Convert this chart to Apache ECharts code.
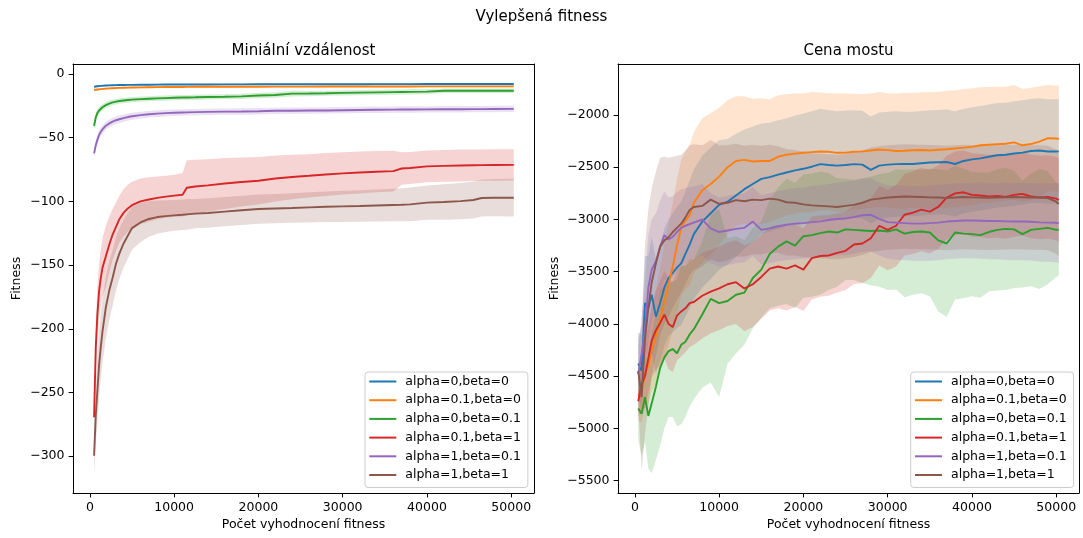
<!DOCTYPE html>
<html><head><meta charset="utf-8">
<script src="https://cdn.jsdelivr.net/npm/echarts@6/dist/echarts.min.js"></script>
<style>html,body{margin:0;padding:0;background:#fff}#main{width:1083px;height:538px}</style>
</head><body><div id="main"></div>
<script>
const FONT = "'DejaVu Sans', sans-serif";
const seriesNames = ['alpha=0,beta=0','alpha=0.1,beta=0','alpha=0,beta=0.1','alpha=0.1,beta=1','alpha=1,beta=0.1','alpha=1,beta=1'];
const colors = ['#1f77b4','#ff7f0e','#2ca02c','#d62728','#9467bd','#8c564b'];

const xTicks = [0, 10000, 20000, 30000, 40000, 50000];
const yTicksLeft = [-300, -250, -200, -150, -100, -50, 0];
const yTicksRight = [-5500, -5000, -4500, -4000, -3500, -3000, -2500, -2000];

// ---------- Left panel: Miniální vzdálenost ----------
const xsLeft = [500, 700, 900, 1100, 1300, 1500, 1900, 2300, 2700, 3100, 3500, 4000, 4500, 5000, 6000, 7000, 8000, 9000, 10000, 11000, 11500, 12500, 14000, 16000, 18000, 20000, 22000, 24000, 26000, 28000, 30000, 32000, 34000, 36000, 37000, 38000, 40000, 42000, 44000, 45500, 46500, 48000, 50300];
const leftMeanA0B0 = [-10.0, -9.8, -9.6, -9.4, -9.3, -9.2, -9.0, -8.9, -8.8, -8.7, -8.65, -8.6, -8.55, -8.5, -8.45, -8.4, -8.35, -8.3, -8.3, -8.25, -8.25, -8.2, -8.2, -8.15, -8.15, -8.1, -8.1, -8.05, -8.05, -8.0, -8.0, -8.0, -7.95, -7.95, -7.95, -7.95, -7.9, -7.9, -7.9, -7.9, -7.9, -7.9, -7.9];
const leftSdA0B0 = [0.8, 0.8, 0.7, 0.7, 0.7, 0.6, 0.6, 0.6, 0.6, 0.6, 0.6, 0.6, 0.6, 0.6, 0.6, 0.6, 0.6, 0.6, 0.6, 0.6, 0.6, 0.6, 0.6, 0.6, 0.6, 0.6, 0.6, 0.6, 0.6, 0.6, 0.6, 0.6, 0.6, 0.6, 0.6, 0.6, 0.6, 0.6, 0.6, 0.6, 0.6, 0.6, 0.6];
const leftMeanA01B0 = [-12.6, -12.4, -12.2, -12.0, -11.85, -11.7, -11.5, -11.3, -11.15, -11.0, -10.9, -10.8, -10.7, -10.6, -10.5, -10.4, -10.3, -10.25, -10.2, -10.15, -10.1, -10.05, -10.0, -10.0, -9.95, -9.95, -9.9, -9.9, -9.9, -9.85, -9.85, -9.85, -9.8, -9.8, -9.8, -9.8, -9.75, -9.75, -9.75, -9.7, -9.7, -9.7, -9.7];
const leftSdA01B0 = [0.9, 0.9, 0.8, 0.8, 0.8, 0.7, 0.7, 0.7, 0.7, 0.7, 0.7, 0.7, 0.7, 0.7, 0.7, 0.7, 0.7, 0.7, 0.7, 0.7, 0.7, 0.7, 0.7, 0.7, 0.7, 0.7, 0.7, 0.7, 0.7, 0.7, 0.7, 0.7, 0.7, 0.7, 0.7, 0.7, 0.7, 0.7, 0.7, 0.7, 0.7, 0.7, 0.7];
const leftMeanA0B01 = [-40.8, -34, -30.5, -28.6, -27.2, -26.1, -24.4, -23.2, -22.3, -21.7, -21.2, -20.8, -20.4, -20.1, -19.7, -19.4, -19.1, -18.9, -18.7, -18.5, -18.4, -18.3, -18.1, -17.9, -17.6, -16.9, -16.5, -15.4, -15.3, -15.1, -14.8, -14.6, -14.4, -14.2, -14.1, -14.0, -13.8, -13.2, -13.2, -13.2, -13.2, -13.2, -13.2];
const leftSdA0B01 = [3, 3, 3, 2.8, 2.7, 2.6, 2.5, 2.4, 2.3, 2.2, 2.2, 2.1, 2.1, 2, 2, 2, 2, 2, 2, 2, 2, 2, 2, 2, 2.1, 2.1, 2.2, 2.2, 2.1, 2, 2, 2, 2, 2, 2, 2, 2, 1.8, 1.8, 1.8, 1.8, 1.8, 1.8];
const leftMeanA01B1 = [-269.5, -215, -188, -170, -160, -152, -143, -134, -126, -120, -114, -109, -105.5, -103, -100, -98.5, -97.2, -96.3, -95.5, -94.8, -89.3, -88.3, -87.4, -86, -84.8, -83.8, -82, -80.8, -79.9, -78.9, -78, -77.3, -76.7, -76.2, -74.2, -73.8, -72.5, -72.1, -71.8, -71.6, -71.5, -71.4, -71.3];
const leftSdA01B1 = [8, 18, 21, 22, 22, 23, 24, 22, 20, 19, 18.5, 18.5, 18.5, 18.5, 18, 17.5, 16.8, 16.5, 16.5, 17, 21.5, 21, 20.5, 20, 19.3, 18.6, 18, 17.5, 17, 16.8, 16.5, 16.5, 16.2, 16, 12.8, 12.6, 12.4, 12.5, 12.6, 12.4, 12.3, 12.3, 12.3];
const leftMeanA1B01 = [-62.3, -56, -51.5, -47.8, -45.3, -43.5, -40.6, -38.8, -37.4, -36.3, -35.5, -34.6, -33.8, -33.2, -32.3, -31.6, -31.1, -30.7, -30.4, -30.2, -30.1, -29.9, -29.7, -29.5, -29.4, -29.2, -28.9, -28.8, -28.7, -28.6, -28.4, -28.2, -28.1, -28.0, -27.9, -27.9, -27.8, -27.7, -27.7, -27.6, -27.6, -27.5, -27.4];
const leftSdA1B01 = [3.5, 3.5, 3.5, 3.4, 3.3, 3.2, 3.1, 3, 3, 2.9, 2.9, 2.8, 2.8, 2.7, 2.7, 2.6, 2.6, 2.6, 2.5, 2.5, 2.5, 2.5, 2.5, 2.5, 2.5, 2.5, 2.5, 2.5, 2.5, 2.5, 2.5, 2.5, 2.5, 2.5, 2.5, 2.5, 2.5, 2.5, 2.5, 2.5, 2.5, 2.5, 2.5];
const leftMeanA1B1 = [-299.6, -268, -248, -228, -214, -202, -183, -170, -160, -149, -141, -133, -127, -121, -116.5, -113.8, -112.3, -111.6, -111, -110.5, -110.2, -109.6, -109.1, -108, -107, -106, -105.6, -105.2, -104.7, -104.2, -103.9, -103.6, -103.2, -102.8, -102.6, -102.3, -101, -100.5, -99.8, -98.9, -97.3, -97.1, -97.1];
const leftSdA1B1 = [15, 22, 25, 26, 26, 25, 24, 23, 22, 21, 20, 19, 18, 17, 15.5, 14, 13, 12.5, 12, 12, 12, 11.5, 11.5, 11.5, 11.5, 11.5, 11.5, 11.5, 11.8, 12, 12.2, 12.4, 12.6, 12.8, 13, 13.2, 13.5, 14, 14.2, 14.5, 14.5, 14.6, 14.8];

// ---------- Right panel: Cena mostu ----------
const xsRight = [400, 800, 1200, 1600, 2000, 2500, 3000, 3500, 4000, 4500, 5000, 5500, 6000, 6500, 7000, 8000, 9000, 10000, 11000, 12000, 13000, 14000, 15000, 16000, 17000, 18000, 19000, 20000, 21000, 22000, 23000, 24000, 25000, 26000, 27000, 28000, 29000, 30000, 31000, 32000, 33000, 34000, 35000, 36000, 37000, 38000, 39000, 40000, 41000, 42000, 43000, 44000, 45000, 46000, 47000, 48000, 49000, 50000, 50300];
const rightMeanA0B0 = [-4380, -4450, -3800, -3850, -3720, -3930, -3800, -3650, -3560, -3510, -3460, -3420, -3330, -3240, -3140, -3020, -2940, -2860, -2830, -2770, -2710, -2660, -2612, -2595, -2570, -2550, -2530, -2515, -2495, -2470, -2478, -2485, -2478, -2470, -2475, -2525, -2485, -2475, -2470, -2468, -2469, -2462, -2455, -2452, -2450, -2469, -2440, -2425, -2415, -2400, -2385, -2380, -2368, -2360, -2345, -2340, -2350, -2350, -2348];
const rightSdA0B0 = [300, 350, 450, 500, 550, 550, 560, 560, 560, 570, 580, 590, 600, 610, 620, 630, 630, 620, 600, 590, 570, 550, 530, 520, 520, 520, 525, 530, 530, 530, 525, 520, 520, 515, 515, 510, 510, 505, 505, 500, 500, 500, 500, 500, 505, 505, 500, 500, 500, 500, 500, 498, 500, 500, 500, 500, 500, 500, 500];
const rightMeanA01B0 = [-4680, -4640, -4480, -4400, -4250, -4120, -3960, -3780, -3620, -3450, -3250, -3080, -3010, -2960, -2840, -2720, -2660, -2590, -2500, -2440, -2430, -2445, -2440, -2440, -2400, -2380, -2370, -2362, -2355, -2350, -2352, -2362, -2360, -2352, -2348, -2340, -2330, -2336, -2345, -2342, -2338, -2335, -2340, -2333, -2328, -2320, -2312, -2305, -2290, -2285, -2280, -2275, -2262, -2290, -2278, -2255, -2222, -2225, -2230];
const rightSdA01B0 = [250, 300, 330, 360, 400, 450, 500, 540, 580, 610, 640, 650, 660, 670, 680, 690, 680, 660, 640, 620, 610, 600, 600, 590, 590, 580, 575, 570, 575, 565, 560, 570, 565, 555, 550, 545, 550, 545, 550, 555, 548, 552, 560, 555, 560, 558, 562, 560, 555, 552, 550, 545, 548, 540, 538, 530, 510, 505, 515];
const rightMeanA0B01 = [-4810, -4860, -4700, -4880, -4760, -4600, -4420, -4320, -4260, -4240, -4280, -4200, -4170, -4100, -4050, -3910, -3760, -3800, -3780, -3720, -3700, -3560, -3480, -3330, -3260, -3210, -3250, -3160, -3150, -3130, -3115, -3125, -3095, -3100, -3105, -3110, -3105, -3115, -3095, -3135, -3120, -3115, -3125, -3200, -3230, -3125, -3135, -3140, -3150, -3120, -3100, -3090, -3095, -3140, -3100, -3090, -3080, -3100, -3097];
const rightSdA0B01 = [300, 400, 430, 500, 670, 700, 745, 680, 630, 650, 700, 760, 720, 690, 670, 700, 800, 900, 600, 560, 500, 480, 460, 520, 565, 600, 600, 590, 590, 590, 560, 520, 485, 480, 500, 520, 540, 560, 575, 610, 600, 590, 610, 680, 700, 640, 620, 595, 600, 570, 580, 585, 560, 510, 540, 575, 540, 450, 440];
const rightMeanA01B1 = [-4740, -4580, -4500, -4330, -4160, -4060, -3990, -3910, -4000, -4030, -3920, -3880, -3850, -3800, -3790, -3730, -3690, -3660, -3620, -3600, -3660, -3620, -3550, -3470, -3450, -3470, -3440, -3480, -3370, -3350, -3345, -3320, -3300, -3240, -3230, -3180, -3060, -3100, -3060, -2955, -2935, -2905, -2925, -2880, -2790, -2750, -2740, -2765, -2770, -2780, -2775, -2785, -2765, -2755, -2780, -2790, -2785, -2800, -2814];
const rightSdA01B1 = [150, 250, 300, 330, 350, 380, 400, 420, 430, 430, 430, 430, 420, 420, 410, 410, 400, 400, 400, 400, 410, 410, 400, 400, 400, 400, 395, 395, 395, 390, 385, 380, 375, 377, 380, 380, 380, 385, 390, 390, 395, 400, 400, 400, 400, 400, 400, 400, 400, 400, 400, 400, 400, 400, 400, 400, 400, 400, 400];
const rightMeanA1B01 = [-4480, -4290, -4050, -3650, -3480, -3400, -3260, -3150, -3190, -3165, -3120, -3080, -3060, -3045, -3030, -3000, -3085, -3120, -3105, -3090, -3080, -3020, -3100, -3085, -3065, -3050, -3040, -3035, -3025, -3018, -3005, -2995, -2990, -2978, -2960, -2955, -2995, -3025, -3030, -3035, -3040, -3040, -3035, -3030, -3020, -3015, -3010, -3010, -3012, -3015, -3015, -3018, -3020, -3020, -3022, -3028, -3030, -3032, -3035];
const rightSdA1B01 = [250, 350, 450, 500, 480, 460, 440, 420, 400, 390, 380, 370, 360, 350, 345, 340, 335, 330, 330, 330, 330, 330, 330, 335, 335, 340, 340, 340, 345, 345, 345, 350, 350, 350, 350, 350, 350, 350, 355, 355, 355, 355, 360, 360, 360, 360, 360, 360, 365, 365, 365, 370, 370, 370, 370, 375, 375, 380, 380];
const rightMeanA1B1 = [-4450, -4700, -4150, -3850, -3600, -3420, -3260, -3200, -3170, -3120, -3080, -3040, -2980, -2910, -2880, -2870, -2810, -2850, -2840, -2815, -2825, -2810, -2815, -2800, -2810, -2835, -2840, -2855, -2865, -2870, -2875, -2880, -2870, -2860, -2840, -2810, -2800, -2790, -2785, -2780, -2782, -2785, -2788, -2790, -2795, -2790, -2785, -2788, -2790, -2792, -2790, -2788, -2785, -2787, -2790, -2790, -2795, -2830, -2852];
const rightSdA1B1 = [300, 700, 900, 950, 900, 880, 850, 800, 760, 720, 690, 660, 640, 620, 600, 580, 570, 560, 550, 540, 530, 525, 520, 515, 510, 510, 505, 505, 500, 500, 500, 500, 500, 500, 500, 500, 500, 500, 500, 500, 500, 500, 500, 500, 500, 500, 500, 500, 500, 500, 500, 500, 500, 500, 500, 500, 500, 500, 500];

const leftMeans = [leftMeanA0B0, leftMeanA01B0, leftMeanA0B01, leftMeanA01B1, leftMeanA1B01, leftMeanA1B1];
const leftSds = [leftSdA0B0, leftSdA01B0, leftSdA0B01, leftSdA01B1, leftSdA1B01, leftSdA1B1];
const rightMeans = [rightMeanA0B0, rightMeanA01B0, rightMeanA0B01, rightMeanA01B1, rightMeanA1B01, rightMeanA1B1];
const rightSds = [rightSdA0B0, rightSdA01B0, rightSdA0B01, rightSdA01B1, rightSdA1B01, rightSdA1B1];

// ---------- layout ----------
const X_MIN = -2000, X_MAX = 52700;
const YL_MIN = -328.9, YL_MAX = 7.85;
const YR_MIN = -5617.9, YR_MAX = -1511.9;
const fmt = v => String(v).replace('-', '\u2212');

function rgba(hex, a) {
  const n = parseInt(hex.slice(1), 16);
  return 'rgba(' + ((n >> 16) & 255) + ',' + ((n >> 8) & 255) + ',' + (n & 255) + ',' + a + ')';
}

function bottomX(gridIndex) {
  return {
    type: 'value', gridIndex, min: X_MIN, max: X_MAX, position: 'bottom',
    splitLine: { show: false },
    axisLine: { show: true, onZero: false, lineStyle: { color: '#000', width: 1 } },
    axisTick: { show: true, inside: false, length: 4.4, lineStyle: { color: '#000', width: 1 }, customValues: xTicks },
    axisLabel: { show: true, margin: 8, fontSize: 12.5, color: '#000', fontFamily: FONT, customValues: xTicks, formatter: fmt }
  };
}
function topX(gridIndex) {
  return {
    type: 'value', gridIndex, min: X_MIN, max: X_MAX, position: 'top',
    splitLine: { show: false },
    axisLine: { show: true, onZero: false, lineStyle: { color: '#000', width: 1 } },
    axisTick: { show: false }, axisLabel: { show: false }
  };
}
function leftY(gridIndex, min, max, ticks) {
  return {
    type: 'value', gridIndex, min, max, position: 'left',
    splitLine: { show: false },
    axisLine: { show: true, onZero: false, lineStyle: { color: '#000', width: 1 } },
    axisTick: { show: true, inside: false, length: 4.4, lineStyle: { color: '#000', width: 1 }, customValues: ticks },
    axisLabel: { show: true, margin: 8.5, fontSize: 12.5, color: '#000', fontFamily: FONT, customValues: ticks, formatter: fmt }
  };
}
function rightY(gridIndex, min, max) {
  return {
    type: 'value', gridIndex, min, max, position: 'right',
    splitLine: { show: false },
    axisLine: { show: true, onZero: false, lineStyle: { color: '#000', width: 1 } },
    axisTick: { show: false }, axisLabel: { show: false }
  };
}

function lineSeries(name, axisIdx, xs, mean, color) {
  return {
    type: 'line', name, xAxisIndex: axisIdx, yAxisIndex: axisIdx,
    data: xs.map((x, i) => [x, mean[i]]),
    showSymbol: false, symbol: 'none', smooth: false, clip: true,
    lineStyle: { color, width: 1.9 }, itemStyle: { color },
    emphasis: { disabled: true }, animation: false
  };
}
function bandSeries(name, axisIdx, xs, mean, sd, color) {
  const upper = xs.map((x, i) => [x, mean[i] + sd[i]]);
  const lower = xs.map((x, i) => [x, mean[i] - sd[i]]);
  return {
    type: 'custom', name, xAxisIndex: axisIdx, yAxisIndex: axisIdx, silent: true, clip: true,
    data: [[xs[0], mean[0]]],
    renderItem: (params, api) => {
      const pts = upper.map(p => api.coord(p)).concat(lower.slice().reverse().map(p => api.coord(p)));
      return { type: 'polygon', shape: { points: pts }, style: { fill: rgba(color, 0.2), stroke: null } };
    },
    animation: false
  };
}

const series = [];
for (let k = 0; k < 6; k++) {
  series.push(lineSeries(seriesNames[k], 0, xsLeft, leftMeans[k], colors[k]));
  series.push(bandSeries('bandL' + k, 0, xsLeft, leftMeans[k], leftSds[k], colors[k]));
}
for (let k = 0; k < 6; k++) {
  series.push(lineSeries(seriesNames[k], 1, xsRight, rightMeans[k], colors[k]));
  series.push(bandSeries('bandR' + k, 1, xsRight, rightMeans[k], rightSds[k], colors[k]));
}

function legend(left) {
  return {
    orient: 'vertical', left, top: 372, data: seriesNames, icon: 'rect',
    itemWidth: 27, itemHeight: 2, itemGap: 4.7,
    padding: [2.5, 7, 5.5, 4.3],
    backgroundColor: 'rgba(255,255,255,0.8)', borderColor: '#cccccc', borderWidth: 1, borderRadius: 3,
    textStyle: { fontFamily: FONT, fontSize: 12.5, color: '#000', lineHeight: 14, padding: [0, 0, 0, 4] },
    selectedMode: false
  };
}

function txt(text, x, y, size, rot) {
  return {
    type: 'text', x, y, rotation: rot || 0, silent: true,
    style: { text, fontSize: size, fontFamily: FONT, fill: '#000',
      textAlign: 'center', textVerticalAlign: 'middle', align: 'center', verticalAlign: 'middle' }
  };
}

const option = {
  backgroundColor: '#fff',
  animation: false,
  textStyle: { fontFamily: FONT },
  grid: [
    { left: 73, top: 64, width: 461, height: 429, containLabel: false },
    { left: 618, top: 64, width: 461, height: 429, containLabel: false }
  ],
  xAxis: [bottomX(0), bottomX(1), topX(0), topX(1)],
  yAxis: [leftY(0, YL_MIN, YL_MAX, yTicksLeft), leftY(1, YR_MIN, YR_MAX, yTicksRight), rightY(0, YL_MIN, YL_MAX), rightY(1, YR_MIN, YR_MAX)],
  legend: [legend(365), legend(910.7)],
  graphic: [
    txt('Vylepšená fitness', 541.5, 17, 15),
    txt('Miniální vzdálenost', 303.5, 51, 15),
    txt('Cena mostu', 848.5, 51, 15),
    txt('Počet vyhodnocení fitness', 303.5, 525, 12.5),
    txt('Počet vyhodnocení fitness', 848.5, 525, 12.5),
    txt('Fitness', 17, 278.5, 12.5, Math.PI / 2),
    txt('Fitness', 555, 278.5, 12.5, Math.PI / 2)
  ],
  series
};

const chart = echarts.init(document.getElementById('main'), null, { renderer: 'canvas' });
chart.setOption(option);
</script>
</body></html>
